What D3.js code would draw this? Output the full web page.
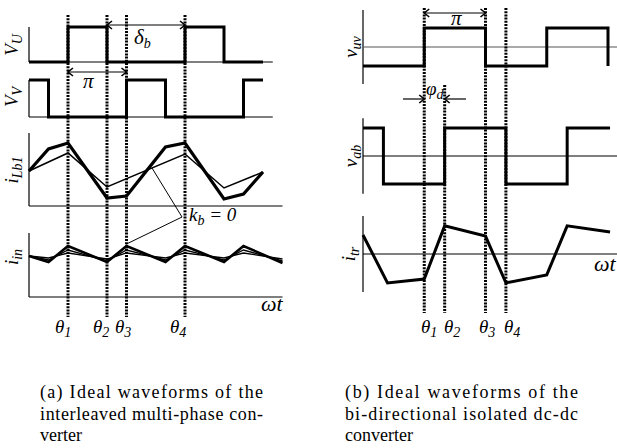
<!DOCTYPE html>
<html>
<head>
<meta charset="utf-8">
<title>Ideal waveforms</title>
<script src="https://d3js.org/d3.v7.min.js"></script>
</head>
<body style="margin:0; background:#fff">
<svg id="fig" width="617" height="448"></svg>
<script>
// values, time in steps of pi/3
var vuSteps = [[0, 0], [2, 1], [4, 0], [8, 1], [10, 0], [12, 0]];
var vvSteps = [[0, 1], [1, 0], [5, 1], [7, 0], [11, 1], [12, 1]];
var iLb1Thick = [[0, 35], [1, 57], [2, 63], [4, 8], [5, 10], [7, 59], [8, 63], [10, 7], [11, 12], [12, 34]];
var iLb1Thin = [[0, 35], [2, 53], [4, 19], [8, 52], [10, 18], [12, 34]];
var iInA = [[0, 41], [1, 35], [2, 51], [4, 35], [5, 51], [7, 35], [8, 51], [10, 35], [11, 51], [13, 34]];
var iInB = [[0, 41], [1, 37], [2, 47], [4, 36], [5, 47], [7, 37], [8, 47], [10, 37], [11, 47], [13, 36]];
var iInC = [[0, 41], [1, 39], [2, 44], [4, 38], [5, 44], [7, 39], [8, 44], [10, 39], [11, 44], [13, 38]];
var leftThetas = [2, 4, 5, 8];

var vuvSteps = [[0, -1], [3, 1], [6, -1], [9, 1], [12, -1]];
var vabSteps = [[0, 1], [1, -1], [4, 1], [7, -1], [10, 1], [12.1, 1]];
var itrPoints = [[0, 0.5], [1.2, -0.76], [3, -0.66], [4, 0.74], [6, 0.47], [7, -0.76], [9, -0.55], [10, 0.74], [12.1, 0.58]];
var rightThetas = [3, 4, 6, 7];

var thetaSubs = ["1", "2", "3", "4"];
var captionA = ["(a) Ideal waveforms of the", "interleaved multi-phase con-", "verter"];
var captionB = ["(b) Ideal waveforms of the", "bi-directional isolated dc-dc", "converter"];

var svg = d3.select("#fig");
var FONT = "Liberation Serif";

// open chevron arrow heads
svg.append("defs").append("marker")
    .attr("id", "chev")
    .attr("viewBox", "-8 -5 9 10")
    .attr("refX", 0)
    .attr("refY", 0)
    .attr("markerWidth", 9)
    .attr("markerHeight", 10)
    .attr("markerUnits", "userSpaceOnUse")
    .attr("orient", "auto-start-reverse")
    .append("path")
    .attr("d", "M-5,-4L0,0L-5,4")
    .attr("fill", "none")
    .attr("stroke", "#000")
    .attr("stroke-width", 1.6);

// scales
var xL = d3.scaleLinear().domain([0, 12]).range([29, 263]);
var xR = d3.scaleLinear().domain([0, 12]).range([363, 608]);
var yVU = d3.scaleLinear().domain([0, 1]).range([62, 27]);
var yVV = d3.scaleLinear().domain([0, 1]).range([117, 80]);
var yLb = d3.scaleLinear().domain([0, 73]).range([206, 133]);
var yIn = d3.scaleLinear().domain([0, 64]).range([297, 233]);
var yUV = d3.scaleLinear().domain([-2, 2]).range([85, 9]);
var yAB = d3.scaleLinear().domain([-1, 1]).range([184, 128]);
var yTR = d3.scaleLinear().domain([-1, 1]).range([292, 216]);

function txt(x, y, size, italic) {
    return svg.append("text")
        .attr("x", x).attr("y", y)
        .style("font-family", FONT)
        .style("font-style", italic ? "italic" : "normal")
        .style("font-size", size + "px");
}

function wave(x, y, data, curve, width) {
    var line = d3.line().x(function(d) { return x(d[0]); }).y(function(d) { return y(d[1]); });
    if (curve) line.curve(curve);
    svg.append("path")
        .attr("d", line(data))
        .attr("fill", "none")
        .attr("stroke", "#000")
        .attr("stroke-width", width)
        .attr("stroke-linejoin", "miter");
}

function axisLines(x0, y0, y1, yb, x1, col) {
    svg.append("line").attr("x1", x0).attr("x2", x0).attr("y1", y0).attr("y2", y1)
        .attr("stroke", "#000").attr("stroke-width", 1.2);
    svg.append("line").attr("x1", x0).attr("x2", x1).attr("y1", yb).attr("y2", yb)
        .attr("stroke", col || "#000").attr("stroke-width", 1.2);
}

function rotLabel(x, y, main, sub) {
    var t = txt(0, 0, 19, true)
        .attr("text-anchor", "middle")
        .attr("transform", "translate(" + x + "," + y + ") rotate(-90)");
    t.append("tspan").text(main);
    t.append("tspan").attr("dy", 4).style("font-size", "14px").text(sub);
}

function subLabel(x, y, main, sub, size) {
    var t = txt(x, y, size || 19, true);
    t.append("tspan").text(main);
    t.append("tspan").attr("dy", 4).style("font-size", "14px").text(sub);
    return t;
}

function dotted(x, y0, y1) {
    svg.append("line")
        .attr("x1", x).attr("x2", x).attr("y1", y0).attr("y2", y1)
        .attr("stroke", "#000")
        .attr("stroke-width", 3)
        .attr("stroke-dasharray", "2,1.2");
}

function arrow(x1, x2, y, both) {
    var l = svg.append("line")
        .attr("x1", x1).attr("x2", x2).attr("y1", y).attr("y2", y)
        .attr("stroke", "#000").attr("stroke-width", 1.2)
        .attr("marker-end", "url(#chev)");
    if (both) l.attr("marker-start", "url(#chev)");
}

// ---------- (a) interleaved converter ----------
axisLines(xL(0), yVU(1), yVU(0), yVU(0), xL(12.5));
axisLines(xL(0), yVV(1), yVV(0), yVV(0), xL(12.5));
axisLines(xL(0), yLb(73), yLb(0), yLb(0), xL(13));
axisLines(xL(0), yIn(64), yIn(0), yIn(0), xL(13));

wave(xL, yVU, vuSteps, d3.curveStepAfter, 3);
wave(xL, yVV, vvSteps, d3.curveStepAfter, 3);
wave(xL, yLb, iLb1Thin, null, 1.5);
wave(xL, yLb, iLb1Thick, null, 3.2);
wave(xL, yIn, iInC, null, 1.3);
wave(xL, yIn, iInB, null, 1.3);
wave(xL, yIn, iInA, null, 2.6);

leftThetas.forEach(function(t) { dotted(xL(t), 15, 317); });

rotLabel(18, 45, "V", "U");
rotLabel(18, 97, "V", "V");
rotLabel(18, 170, "i", "Lb1");
rotLabel(18, 257, "i", "in");

arrow(xL(4), xL(8), 25, true);
subLabel(134, 44, "\u03b4", "b", 21);
arrow(xL(2), xL(5), 72, true);
txt(83, 88, 21, true).text("\u03c0");

// k_b = 0 pointer
svg.append("polyline")
    .attr("points", [[152, yLb(38)], [182, 217], [xL(5), yIn(53)]].join(" "))
    .attr("fill", "none").attr("stroke", "#000").attr("stroke-width", 1);
var kb = subLabel(189, 221, "k", "b", 19);
kb.append("tspan").attr("dy", -4).style("font-size", "19px").text(" = 0");

txt(261, 311, 22, true).text("\u03c9t");

var leftThetaX = [55, 93, 115, 170];
leftThetaX.forEach(function(x, i) {
    subLabel(x, 333, "\u03b8", thetaSubs[i], 19);
});

// ---------- (b) isolated dc-dc converter ----------
axisLines(xR(0), yUV(-1.95), yUV(1.95), yUV(0), 617, "#555");
axisLines(xR(0), yAB(1.35), yAB(-1.35), yAB(0), 617);
axisLines(xR(0), yTR(1), yTR(-1), yTR(0), 617);

wave(xR, yUV, vuvSteps, d3.curveStepAfter, 3);
wave(xR, yAB, vabSteps, d3.curveStepAfter, 3);
wave(xR, yTR, itrPoints, null, 3);

dotted(xR(3), 8, 313);
dotted(xR(4), 85, 313);
dotted(xR(6), 8, 313);
dotted(xR(7), 8, 313);

rotLabel(357, 47, "v", "uv");
rotLabel(357, 156, "v", "ab");
rotLabel(355, 254, "i", "tr");

arrow(xR(3), xR(6), 13, true);
txt(451, 25, 21, true).text("\u03c0");
arrow(403, xR(3), 99, false);
arrow(466, xR(4), 99, false);
subLabel(426, 95, "\u03c6", "d", 19);

txt(594, 271, 22, true).text("\u03c9t");

var rightThetaX = [421, 444, 479, 504];
rightThetaX.forEach(function(x, i) {
    subLabel(x, 333, "\u03b8", thetaSubs[i], 19);
});

// ---------- captions ----------
function caption(lines, x, width) {
    lines.forEach(function(s, i) {
        var t = txt(x, 398 + i * 21.5, 18, false).text(s);
        if (i < lines.length - 1) t.attr("textLength", width).attr("lengthAdjust", "spacing");
    });
}
caption(captionA, 40, 223);
caption(captionB, 345, 233);
</script>
</body>
</html>
